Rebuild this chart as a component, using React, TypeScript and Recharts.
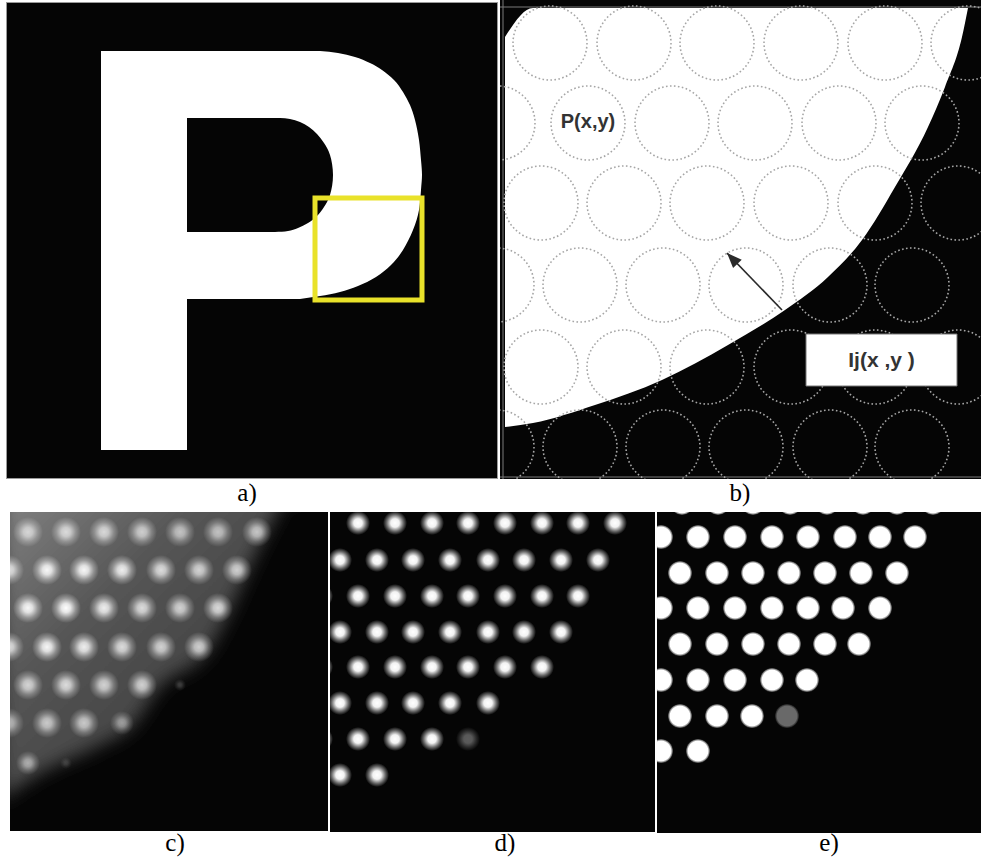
import React from 'react';
import {
  ComposedChart,
  ScatterChart,
  Scatter,
  Area,
  XAxis,
  YAxis,
  ReferenceArea,
  ReferenceLine,
  ReferenceDot,
} from 'recharts';

// all values are page pixel positions

// a) letter P (bowl and counter read as right edge per row)
const pStemX = [101, 187];
const pStemY = [51, 450];
const bowlY = [51, 53, 57, 63, 70, 80, 92, 105, 120, 140, 160, 175, 190, 210, 230, 250, 265, 277, 286, 292, 296, 299];
const bowlRight = [320, 338, 355, 370, 382, 394, 403, 410, 415, 419, 421, 422, 421, 419, 413, 403, 391, 376, 358, 340, 320, 300];
const holeY = [118, 119, 122, 127, 134, 143, 155, 175, 195, 207, 216, 223, 228, 231, 232];
const holeRight = [280, 290, 300, 309, 317, 324, 330, 333, 330, 324, 317, 308, 298, 288, 275];
const pLeftEdge = 187;
const zoomBoxX = [315, 422];
const zoomBoxY = [198, 300];

// b) zoomed edge with sampling circles
const bEdgeX = [505, 533, 595, 662, 728, 785, 828, 862, 895, 928, 945, 962, 968];
const bEdgeTop = [37, 8, 8, 8, 8, 8, 8, 8, 8, 8, 8, 8, 8];
const bEdgeBottom = [427, 423, 405, 380, 345, 310, 277, 240, 187, 127, 87, 37, 8];
const bRowY = [43, 123, 203, 285, 367, 447];
const bRowX = [
  [550, 634, 717, 801, 885, 968],
  [498, 588, 672, 755, 839, 922],
  [541, 624, 707, 791, 875, 958],
  [497, 580, 663, 746, 830, 912],
  [541, 624, 707, 791, 875, 958],
  [497, 580, 663, 746, 830, 912],
];
const arrowX = [782, 727];
const arrowY = [310, 253];
const labelBoxX = [806, 957];
const labelBoxY = [334, 386];

// c) blurred response
const hazeX = [0, 37, 100, 133, 157, 210, 230, 248, 270, 285, 340];
const hazeBottom = [800, 775, 745, 725, 690, 648, 610, 570, 525, 500, 490];
const cRowY = [532, 570, 608, 647, 685, 723, 763];
const cRowX = [
  [28, 66, 104, 142, 180, 218, 257],
  [9, 47, 84, 122, 161, 199, 237],
  [28, 66, 104, 142, 180, 218],
  [9, 47, 84, 122, 161, 199],
  [28, 66, 104, 142, 180],
  [9, 47, 84, 122],
  [28, 66],
];
const cRowLevel = [
  [0.7, 0.75, 0.75, 0.7, 0.65, 0.65, 0.7],
  [0.8, 0.95, 0.95, 0.9, 0.8, 0.75, 0.75],
  [0.95, 1, 0.9, 0.8, 0.75, 0.8],
  [0.8, 0.95, 0.9, 0.8, 0.75, 0.75],
  [0.75, 0.8, 0.75, 0.75, 0.2],
  [0.6, 0.7, 0.7, 0.5],
  [0.55, 0.15],
];

// d) deconvolved
const dRowY = [523, 560, 596, 632, 667, 703, 739, 775];
const dRowX = [
  [358, 395, 432, 468, 505, 542, 578, 615],
  [340, 377, 413, 450, 488, 524, 561, 598],
  [321, 358, 395, 432, 468, 505, 542, 578],
  [340, 377, 413, 450, 488, 524, 561],
  [321, 358, 395, 432, 468, 505, 542],
  [340, 377, 413, 450, 488],
  [321, 358, 395, 432, 468],
  [340, 377],
];
const dRowLevel = [
  [1, 1, 1, 1, 1, 1, 1, 1],
  [1, 1, 1, 1, 1, 1, 1, 1],
  [1, 1, 1, 1, 1, 1, 1, 1],
  [1, 1, 1, 1, 1, 1, 1],
  [1, 1, 1, 1, 1, 1, 1],
  [1, 1, 1, 1, 1],
  [1, 1, 1, 1, 0.35],
  [1, 1],
];

// e) thresholded
const eRowY = [503, 537, 573, 608, 644, 680, 716, 751];
const eRowX = [
  [682, 718, 753, 790, 827, 863, 897, 933],
  [661, 698, 735, 772, 808, 845, 880, 915],
  [680, 717, 753, 789, 825, 861, 897],
  [661, 698, 735, 772, 808, 843, 880],
  [680, 717, 753, 789, 825, 859],
  [661, 698, 735, 772, 807],
  [680, 717, 752, 787],
  [661, 698],
];
const eRowLevel = [
  [1, 1, 1, 1, 1, 1, 1, 1],
  [1, 1, 1, 1, 1, 1, 1, 1],
  [1, 1, 1, 1, 1, 1, 1],
  [1, 1, 1, 1, 1, 1, 1],
  [1, 1, 1, 1, 1, 1],
  [1, 1, 1, 1, 1],
  [1, 1, 1, 0.4],
  [1, 1],
];

const captions = [
  { text: 'a)', x: 247, y: 480 },
  { text: 'b)', x: 740, y: 480 },
  { text: 'c)', x: 175, y: 830 },
  { text: 'd)', x: 505, y: 830 },
  { text: 'e)', x: 829, y: 830 },
];

const toDots = (rowY: number[], rowX: number[][], rowLevel: number[][]) =>
  rowY.flatMap((y, i) => rowX[i].map((x, j) => ({ x, y, level: rowLevel[i][j] })));

const bowlRows = bowlY.map((y, i) => ({ y, range: [pLeftEdge, bowlRight[i]] }));
const holeRows = holeY.map((y, i) => ({ y, range: [pLeftEdge, holeRight[i]] }));
const bRows = bEdgeX.map((x, i) => ({ x, range: [bEdgeTop[i], bEdgeBottom[i]] }));
const bCircles = toDots(bRowY, bRowX, bRowX.map((r) => r.map(() => 1)));
const arrowPts = arrowX.map((x, i) => ({ x, y: arrowY[i], tip: i === 1 }));
const hazeRows = hazeX.map((x, i) => ({ x, range: [470, hazeBottom[i]] }));
const cDots = toDots(cRowY, cRowX, cRowLevel);
const dDots = toDots(dRowY, dRowX, dRowLevel);
const eDots = toDots(eRowY, eRowX, eRowLevel);

// y grows downward like the picture; in vertical layout recharts already runs y top-down
const axes = (xd: number[], yd: number[], flip = true) => [
  <XAxis key="x" type="number" dataKey="x" domain={xd} hide allowDataOverflow />,
  <YAxis key="y" type="number" dataKey="y" domain={yd} reversed={flip} hide allowDataOverflow />,
];

const DashedCircle = (props: any) => (
  <circle cx={props.cx} cy={props.cy} r={37} fill="none" stroke="#a6a6a6" strokeWidth={1.6} strokeDasharray="1.6 2.4" />
);

const ArrowHead = (props: any) => {
  const { cx, cy, payload } = props;
  if (!payload.tip) return <g />;
  const a = Math.atan2(arrowY[1] - arrowY[0], arrowX[1] - arrowX[0]);
  const bx = cx - 15 * Math.cos(a);
  const by = cy - 15 * Math.sin(a);
  const px = -Math.sin(a) * 6;
  const py = Math.cos(a) * 6;
  return <polygon points={`${cx},${cy} ${bx + px},${by + py} ${bx - px},${by - py}`} fill="#2a2a2a" />;
};

const glow = (grad: string, size: (l: number) => number) => (props: any) => {
  const l = props.payload.level;
  return <circle cx={props.cx} cy={props.cy} r={size(l)} fill={`url(#${grad})`} opacity={l} />;
};

const panel = (left: number, top: number, w: number, h: number, extra: React.CSSProperties = {}) =>
  ({ position: 'absolute', left, top, width: w, height: h, background: '#050505', ...extra } as React.CSSProperties);

const margin = { top: 0, right: 0, bottom: 0, left: 0 };
const labelFont = 'Liberation Sans, Arial, sans-serif';

export default function App() {
  return (
    <div style={{ position: 'absolute', left: 0, top: 0, width: 981, height: 868, background: '#fff' }}>
      <svg width={0} height={0} style={{ position: 'absolute' }}>
        <defs>
          <radialGradient id="glowC">
            <stop offset="0%" stopColor="#fff" stopOpacity={1} />
            <stop offset="30%" stopColor="#fff" stopOpacity={0.85} />
            <stop offset="65%" stopColor="#fff" stopOpacity={0.35} />
            <stop offset="100%" stopColor="#fff" stopOpacity={0} />
          </radialGradient>
          <radialGradient id="glowD">
            <stop offset="0%" stopColor="#fff" stopOpacity={1} />
            <stop offset="35%" stopColor="#fff" stopOpacity={0.95} />
            <stop offset="70%" stopColor="#fff" stopOpacity={0.4} />
            <stop offset="100%" stopColor="#fff" stopOpacity={0} />
          </radialGradient>
          <radialGradient id="glowE">
            <stop offset="0%" stopColor="#fff" stopOpacity={1} />
            <stop offset="82%" stopColor="#fff" stopOpacity={1} />
            <stop offset="100%" stopColor="#fff" stopOpacity={0.2} />
          </radialGradient>
          <linearGradient id="hazeGrad" x1="0" y1="0" x2="1" y2="1">
            <stop offset="0%" stopColor="#8a8a8a" />
            <stop offset="35%" stopColor="#555" />
            <stop offset="100%" stopColor="#2c2c2c" />
          </linearGradient>
          <filter id="hazeBlur" x="-20%" y="-20%" width="140%" height="140%">
            <feGaussianBlur stdDeviation="9" />
          </filter>
        </defs>
      </svg>

      {/* a) */}
      <div style={panel(6, 2, 490, 475, { border: '1px solid #9a9a9a' })}>
        <ComposedChart width={490} height={475} layout="vertical" margin={margin}>
          {axes([7, 497], [3, 478], false)}
          <ReferenceArea x1={pStemX[0]} x2={pStemX[1]} y1={pStemY[0]} y2={pStemY[1]} fill="#fff" fillOpacity={1} stroke="none" />
          <Area data={bowlRows} type="natural" dataKey="range" fill="#fff" fillOpacity={1} stroke="none" isAnimationActive={false} />
          <Area data={holeRows} type="natural" dataKey="range" fill="#050505" fillOpacity={1} stroke="none" isAnimationActive={false} />
          <ReferenceArea x1={zoomBoxX[0]} x2={zoomBoxX[1]} y1={zoomBoxY[0]} y2={zoomBoxY[1]} fill="none" stroke="#e9e22a" strokeWidth={5} />
        </ComposedChart>
      </div>

      {/* b) */}
      <div style={panel(500, 0, 481, 479)}>
        <ComposedChart width={481} height={479} data={bRows} margin={margin}>
          {axes([500, 981], [0, 479])}
          <Area type="monotone" dataKey="range" fill="#fff" fillOpacity={1} stroke="none" isAnimationActive={false} />
          <Scatter data={bCircles} shape={DashedCircle} isAnimationActive={false} />
          <ReferenceLine y={7} stroke="#7a7a7a" />
          <ReferenceLine x={503} stroke="#7a7a7a" />
          <ReferenceLine y={477} stroke="#7a7a7a" />
          <ReferenceArea
            x1={labelBoxX[0]}
            x2={labelBoxX[1]}
            y1={labelBoxY[0]}
            y2={labelBoxY[1]}
            fill="#fff"
            fillOpacity={1}
            stroke="#777"
            zIndex={700}
            label={{ value: 'Ij(x ,y )', position: 'center', fill: '#333', fontSize: 21, fontWeight: 'bold', fontFamily: labelFont }}
          />
          <Scatter
            data={arrowPts}
            shape={ArrowHead}
            line={{ stroke: '#2a2a2a', strokeWidth: 1.6 }}
            isAnimationActive={false}
            zIndex={800}
          />
          <ReferenceDot
            x={588}
            y={121}
            r={0}
            stroke="none"
            label={{ value: 'P(x,y)', position: 'center', fill: '#333', fontSize: 20, fontWeight: 'bold', fontFamily: labelFont }}
          />
        </ComposedChart>
      </div>

      {/* c) */}
      <div style={panel(10, 512, 318, 319)}>
        <ComposedChart width={318} height={319} data={hazeRows} margin={margin}>
          {axes([10, 328], [512, 831])}
          <Area type="monotone" dataKey="range" fill="url(#hazeGrad)" fillOpacity={1} stroke="none" filter="url(#hazeBlur)" isAnimationActive={false} />
          <Scatter data={cDots} shape={glow('glowC', (l) => (l < 0.3 ? 6 : l < 0.6 ? 12 : 15))} isAnimationActive={false} />
        </ComposedChart>
      </div>

      {/* d) */}
      <div style={panel(330, 512, 325, 320)}>
        <ScatterChart width={325} height={320} margin={margin}>
          {axes([330, 655], [512, 832])}
          <Scatter data={dDots} shape={glow('glowD', () => 12)} isAnimationActive={false} />
        </ScatterChart>
      </div>

      {/* e) */}
      <div style={panel(657, 512, 324, 321)}>
        <ScatterChart width={324} height={321} margin={margin}>
          {axes([657, 981], [512, 833])}
          <Scatter data={eDots} shape={glow('glowE', () => 12)} isAnimationActive={false} />
        </ScatterChart>
      </div>

      {captions.map((c) => (
        <div
          key={c.text}
          style={{
            position: 'absolute',
            left: c.x - 30,
            top: c.y,
            width: 60,
            textAlign: 'center',
            fontFamily: '"Liberation Serif", "Times New Roman", serif',
            fontSize: 25,
            lineHeight: 1,
            color: '#000',
          }}
        >
          {c.text}
        </div>
      ))}
    </div>
  );
}
